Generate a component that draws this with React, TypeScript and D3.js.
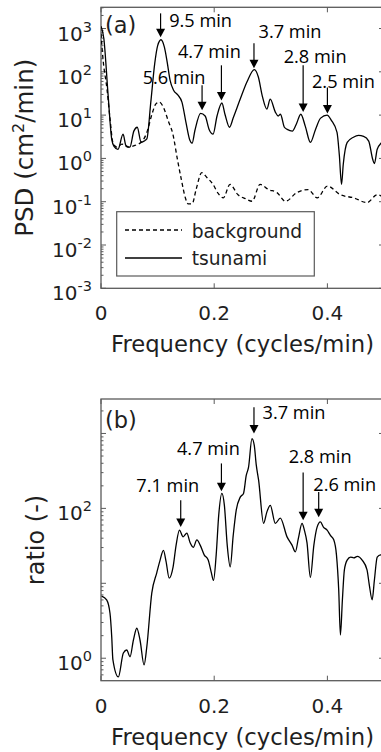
import * as d3 from 'd3';

// ---- data (frequency in cycles/min, values as log10) ----
const tsunamiFreq = [0, 0.005, 0.0124, 0.019, 0.023, 0.03, 0.039, 0.044, 0.051, 0.058, 0.064, 0.071, 0.076, 0.081, 0.088, 0.095, 0.1, 0.106, 0.112, 0.117, 0.122, 0.128, 0.136, 0.143, 0.15, 0.157, 0.161, 0.166, 0.176, 0.184, 0.191, 0.198, 0.205, 0.2136, 0.219, 0.227, 0.234, 0.246, 0.258, 0.271, 0.278, 0.285, 0.293, 0.299, 0.308, 0.313, 0.317, 0.324, 0.329, 0.338, 0.345, 0.353, 0.361, 0.37, 0.379, 0.388, 0.3995, 0.407, 0.417, 0.421, 0.425, 0.428, 0.435, 0.446, 0.455, 0.464, 0.473, 0.48, 0.483, 0.488, 0.496, 0.5];
const tsunamiLog = [3.05, 2.77, 1.49, 0.44, 0.28, 0.21, 0.56, 0.3, 0.26, 0.63, 0.72, 0.37, 0.4, 0.45, 1.3, 2.2, 2.6, 2.74, 2.57, 2.22, 1.81, 1.58, 1.46, 1.3, 0.84, 0.42, 0.35, 0.65, 1.04, 0.98, 0.67, 0.56, 0.98, 1.28, 1.02, 0.72, 0.95, 1.37, 1.77, 2.05, 1.88, 1.44, 1.14, 1.37, 1.07, 0.98, 1.02, 0.72, 0.67, 0.63, 0.79, 1.02, 0.74, 0.37, 0.67, 0.93, 1.0, 0.88, 0.6, 0.09, -0.6, -0.14, 0.37, 0.49, 0.53, 0.51, 0.4, -0.02, -0.12, 0.21, 0.37, 0.44];

const backgroundFreq = [0, 0.0035, 0.0106, 0.016, 0.021, 0.028, 0.037, 0.048, 0.06, 0.073, 0.081, 0.09, 0.097, 0.103, 0.11, 0.119, 0.127, 0.135, 0.142, 0.149, 0.154, 0.161, 0.168, 0.178, 0.187, 0.198, 0.207, 0.216, 0.228, 0.242, 0.255, 0.267, 0.281, 0.296, 0.311, 0.326, 0.346, 0.366, 0.382, 0.4, 0.423, 0.446, 0.47, 0.488, 0.5];
const backgroundLog = [2.88, 2.3, 1.6, 0.91, 0.37, 0.26, 0.33, 0.26, 0.3, 0.4, 0.6, 1.02, 1.26, 1.3, 1.19, 0.86, 0.56, -0.02, -0.49, -0.91, -1.05, -1.05, -0.72, -0.33, -0.44, -0.6, -0.81, -0.91, -0.6, -0.84, -0.93, -0.99, -0.6, -0.72, -0.79, -0.99, -0.79, -0.72, -0.91, -0.64, -0.84, -0.91, -1.02, -0.84, -0.91];

const ratioFreq = [0.0012, 0.01, 0.0159, 0.019, 0.021, 0.0306, 0.0395, 0.0455, 0.0513, 0.0572, 0.0632, 0.069, 0.0761, 0.0809, 0.0897, 0.0985, 0.1044, 0.1103, 0.115, 0.1204, 0.1274, 0.1327, 0.1386, 0.1451, 0.1517, 0.1575, 0.163, 0.1694, 0.1752, 0.1823, 0.1894, 0.1947, 0.1988, 0.2035, 0.208, 0.2136, 0.218, 0.223, 0.2283, 0.2336, 0.239, 0.246, 0.2518, 0.2566, 0.2607, 0.2667, 0.2708, 0.2743, 0.2784, 0.2873, 0.293, 0.2991, 0.308, 0.3168, 0.3287, 0.3375, 0.3434, 0.3487, 0.3552, 0.3593, 0.364, 0.3699, 0.3761, 0.3818, 0.3876, 0.393, 0.3995, 0.4053, 0.4112, 0.416, 0.42, 0.423, 0.4265, 0.43, 0.4349, 0.441, 0.4466, 0.453, 0.4614, 0.47, 0.474, 0.4791, 0.483, 0.488, 0.4938, 0.5];
const ratioLog = [0.83, 0.78, 0.6, 0.28, -0.02, -0.25, 0.07, 0.11, 0.02, 0.24, 0.4, 0.24, -0.09, 0.15, 0.87, 1.14, 1.31, 1.44, 1.29, 1.07, 1.22, 1.51, 1.71, 1.62, 1.67, 1.54, 1.48, 1.58, 1.51, 1.38, 1.31, 1.15, 1.04, 1.38, 1.91, 2.2, 2.04, 1.51, 1.22, 1.64, 1.98, 2.15, 2.2, 2.44, 2.55, 2.93, 2.84, 2.58, 2.38, 1.8, 1.95, 2.04, 1.8, 1.87, 1.62, 1.51, 1.42, 1.6, 1.8, 1.71, 1.54, 1.08, 1.51, 1.75, 1.82, 1.75, 1.71, 1.64, 1.58, 1.38, 0.91, 0.31, 0.78, 1.18, 1.31, 1.35, 1.34, 1.36, 1.31, 1.18, 0.98, 0.78, 1.04, 1.35, 1.38, 1.31];

const xTicks = [0, 0.2, 0.4];
const psdTickExp = [-3, -2, -1, 0, 1, 2, 3];
const ratioTickExp = [0, 2];

const psdPeriods = [9.5, 5.6, 4.7, 3.7, 2.8, 2.5];
const ratioPeriods = [7.1, 4.7, 3.7, 2.8, 2.6];

// arrow layout (log10 of tail / tip / label centre, label offset px)
const psdArrowTail = [3.35, 1.69, 2.15, 2.66, 2.15, 1.64];
const psdArrowTip = [2.8, 1.11, 1.34, 2.08, 1.07, 1.04];
const psdLabelY = [3.19, 1.89, 2.48, 2.95, 2.37, 1.78];
const psdLabelDx = [40, -28, -12, 36, 12, 16];
const ratioArrowTail = [2.11, 2.6, 3.35, 2.48, 2.22];
const ratioArrowTip = [1.75, 2.23, 3.0, 1.84, 1.88];
const ratioLabelY = [2.31, 2.8, 3.28, 2.7, 2.33];
const ratioLabelDx = [-13, -13, 40, 17, 26];

const LEFT = 101;
const RIGHT = 384;
const AX = '#5a5a5a';
const TXT = '#1f1f1f';
const FONT = '"DejaVu Sans", sans-serif';

const x = d3.scaleLinear().domain([0, 0.5]).range([LEFT, RIGHT]);

type Scale = d3.ScaleLogarithmic<number, number>;

function Axes({ y, majors, id }: { y: Scale; majors: number[]; id: string }) {
    const [y0, y1] = y.range();
    const [d0, d1] = y.domain();
    const minors: { v: number; major: boolean }[] = [];
    for (let e = Math.floor(Math.log10(d0)); e <= Math.ceil(Math.log10(d1)); e++) {
        for (let k = 1; k < 10; k++) {
            const v = k * Math.pow(10, e);
            if (v >= d0 && v <= d1) minors.push({ v, major: k === 1 });
        }
    }
    return (
        <g>
            <clipPath id={id}>
                <rect x={LEFT} y={y1} width={RIGHT - LEFT} height={y0 - y1} />
            </clipPath>
            <rect x={LEFT} y={y1} width={RIGHT - LEFT} height={y0 - y1} fill="none" stroke={AX} strokeWidth={1.3} />
            {minors.map((m, i) => {
                const len = m.major ? 5 : 2.5;
                const yy = y(m.v);
                return (
                    <g key={i} stroke={AX} strokeWidth={1}>
                        <line x1={LEFT} x2={LEFT + len} y1={yy} y2={yy} />
                        <line x1={RIGHT} x2={RIGHT - len} y1={yy} y2={yy} />
                    </g>
                );
            })}
            {xTicks.map((t) => (
                <g key={t} stroke={AX} strokeWidth={1}>
                    <line x1={x(t)} x2={x(t)} y1={y0} y2={y0 - 5} />
                    <line x1={x(t)} x2={x(t)} y1={y1} y2={y1 + 5} />
                </g>
            ))}
            {xTicks.map((t) => (
                <text key={'l' + t} x={x(t)} y={y0 + 32} textAnchor="middle" fontSize={20} fontFamily={FONT} fill={TXT}>
                    {t === 0 ? '0' : t.toFixed(1)}
                </text>
            ))}
            {majors.map((e) => (
                <text key={'e' + e} x={92} y={y(Math.pow(10, e)) + 12} textAnchor="end" fontSize={20} fontFamily={FONT} fill={TXT}>
                    10
                    <tspan dy={-9} fontSize={14.5}>
                        {String(e)}
                    </tspan>
                </text>
            ))}
            <text x={(LEFT + RIGHT) / 2} y={y0 + 64} textAnchor="middle" fontSize={22.7} fontFamily={FONT} fill={TXT}>
                Frequency (cycles/min)
            </text>
        </g>
    );
}

function Arrows({ y, periods, tail, tip, labelY, dx }: { y: Scale; periods: number[]; tail: number[]; tip: number[]; labelY: number[]; dx: number[] }) {
    return (
        <g>
            {periods.map((p, i) => {
                const ax = x(1 / p);
                const yt = y(Math.pow(10, tip[i]));
                const ys = y(Math.pow(10, tail[i]));
                return (
                    <g key={i}>
                        <line x1={ax} x2={ax} y1={ys} y2={yt - 7} stroke="#000" strokeWidth={1.2} />
                        <path d={`M${ax - 4.5},${yt - 8.5}L${ax + 4.5},${yt - 8.5}L${ax},${yt}Z`} fill="#000" />
                        <text x={ax + dx[i]} y={y(Math.pow(10, labelY[i]))} dominantBaseline="central" textAnchor="middle" fontSize={18.2} fontFamily='"Open Sans", sans-serif' fill="#000">
                            {p.toFixed(1)} min
                        </text>
                    </g>
                );
            })}
        </g>
    );
}

export default function App() {
    const yA = d3.scaleLog().domain([1e-3, Math.pow(10, 3.49)]).range([288.3, 7.3]);
    const yB = d3.scaleLog().domain([Math.pow(10, -0.3), Math.pow(10, 3.46)]).range([680.7, 399]);

    const lineA = d3
        .line<[number, number]>()
        .x((d) => x(d[0]))
        .y((d) => yA(Math.pow(10, d[1])))
        .curve(d3.curveMonotoneX);
    const lineB = d3
        .line<[number, number]>()
        .x((d) => x(d[0]))
        .y((d) => yB(Math.pow(10, d[1])))
        .curve(d3.curveMonotoneX);

    const tsunami = tsunamiFreq.map((f, i) => [f, tsunamiLog[i]] as [number, number]);
    const background = backgroundFreq.map((f, i) => [f, backgroundLog[i]] as [number, number]);
    const ratio = ratioFreq.map((f, i) => [f, ratioLog[i]] as [number, number]);

    return (
        <svg width={381} height={752} style={{ position: 'absolute', left: 0, top: 0, background: '#fff' }}>
            {/* panel (a) */}
            <Axes y={yA} majors={psdTickExp} id="clipA" />
            <g clipPath="url(#clipA)" fill="none" stroke="#000" strokeWidth={1.3}>
                <path d={lineA(background) || ''} strokeDasharray="4 3" />
                <path d={lineA(tsunami) || ''} />
            </g>
            <text x={105} y={25} dominantBaseline="central" fontSize={22.5} fontFamily={FONT} fill={TXT}>
                (a)
            </text>
            <Arrows y={yA} periods={psdPeriods} tail={psdArrowTail} tip={psdArrowTip} labelY={psdLabelY} dx={psdLabelDx} />
            <text transform={`translate(33,${(7.3 + 288.3) / 2}) rotate(-90)`} textAnchor="middle" fontSize={24.5} fontFamily={FONT} fill={TXT}>
                PSD (cm
                <tspan dy={-9} fontSize={16}>
                    2
                </tspan>
                <tspan dy={9}>/min)</tspan>
            </text>
            {/* legend */}
            <g>
                <rect x={116.7} y={211.7} width={197.6} height={64.3} fill="#fff" stroke={AX} strokeWidth={1.2} />
                <line x1={125} x2={182} y1={230} y2={230} stroke="#000" strokeWidth={1.3} strokeDasharray="4 3" />
                <line x1={125} x2={182} y1={258} y2={258} stroke="#000" strokeWidth={1.3} />
                <text x={191.7} y={231} dominantBaseline="central" fontSize={18.7} fontFamily={FONT} fill={TXT}>
                    background
                </text>
                <text x={191.7} y={258} dominantBaseline="central" fontSize={18.7} fontFamily={FONT} fill={TXT}>
                    tsunami
                </text>
            </g>

            {/* panel (b) */}
            <Axes y={yB} majors={ratioTickExp} id="clipB" />
            <g clipPath="url(#clipB)" fill="none" stroke="#000" strokeWidth={1.3}>
                <path d={lineB(ratio) || ''} />
            </g>
            <text x={105} y={420} dominantBaseline="central" fontSize={22.5} fontFamily={FONT} fill={TXT}>
                (b)
            </text>
            <Arrows y={yB} periods={ratioPeriods} tail={ratioArrowTail} tip={ratioArrowTip} labelY={ratioLabelY} dx={ratioLabelDx} />
            <text transform={`translate(43.5,540) rotate(-90)`} textAnchor="middle" fontSize={24} fontFamily={FONT} fill={TXT}>
                ratio (-)
            </text>
        </svg>
    );
}
